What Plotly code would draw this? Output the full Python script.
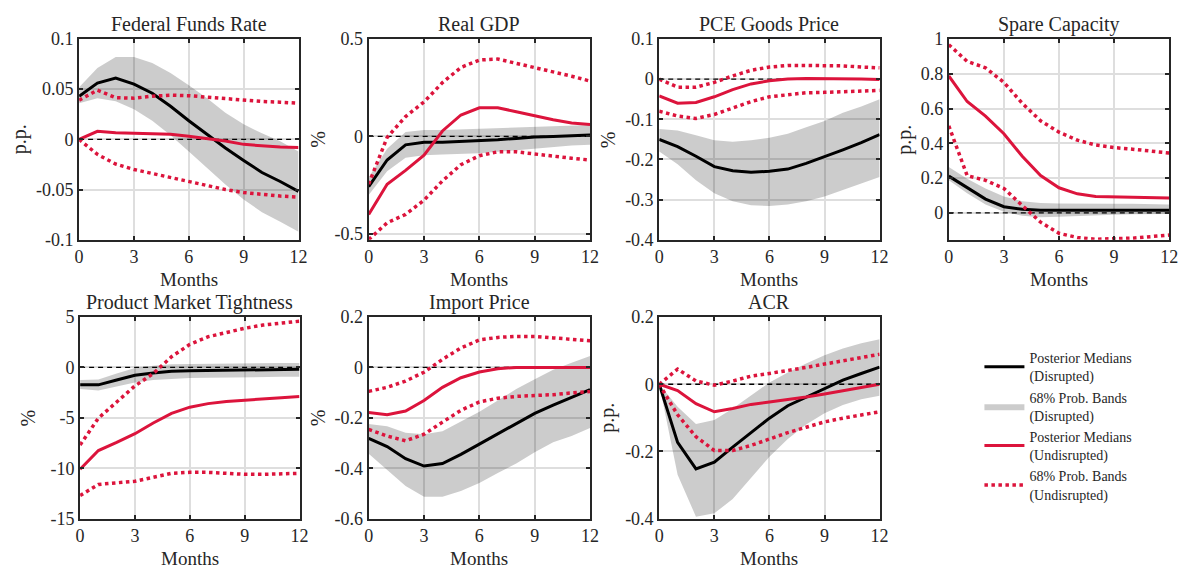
import plotly.graph_objects as go

months = list(range(13))

titles = ["Federal Funds Rate", "Real GDP", "PCE Goods Price", "Spare Capacity",
          "Product Market Tightness", "Import Price", "ACR"]
units = ["p.p.", "%", "%", "p.p.", "%", "%", "p.p."]

# Disrupted (black median, grey band)
dis_med = [
    [0.043, 0.056, 0.061, 0.055, 0.046, 0.033, 0.0185, 0.005, -0.0086, -0.021, -0.033, -0.042, -0.052],
    [-0.258, -0.121, -0.043, -0.030, -0.030, -0.026, -0.023, -0.017, -0.010, -0.003, 0.0, 0.005, 0.007],
    [-0.150, -0.168, -0.192, -0.218, -0.228, -0.232, -0.2296, -0.224, -0.210, -0.194, -0.176, -0.158, -0.138],
    [0.211, 0.144, 0.079, 0.035, 0.020, 0.015, 0.015, 0.017, 0.018, 0.018, 0.017, 0.017, 0.015],
    [-1.73, -1.73, -1.25, -0.77, -0.545, -0.385, -0.32, -0.29, -0.256, -0.224, -0.224, -0.19, -0.19],
    [-0.281, -0.314, -0.362, -0.391, -0.381, -0.345, -0.304, -0.263, -0.221, -0.182, -0.150, -0.118, -0.088],
    [0.0, -0.173, -0.252, -0.232, -0.187, -0.144, -0.101, -0.064, -0.038, -0.0125, 0.0125, 0.032, 0.051],
]
dis_hi = [
    [0.052, 0.071, 0.082, 0.082, 0.076, 0.066, 0.054, 0.041, 0.0265, 0.015, 0.006, -0.002, -0.012],
    [-0.21, -0.063, 0.023, 0.033, 0.033, 0.036, 0.040, 0.043, 0.046, 0.050, 0.053, 0.056, 0.058],
    [-0.124, -0.128, -0.140, -0.152, -0.156, -0.152, -0.146, -0.136, -0.120, -0.104, -0.084, -0.068, -0.050],
    [0.264, 0.196, 0.140, 0.094, 0.067, 0.057, 0.054, 0.052, 0.052, 0.052, 0.052, 0.050, 0.048],
    [-1.25, -1.19, -0.61, -0.064, 0.16, 0.32, 0.35, 0.38, 0.42, 0.42, 0.45, 0.45, 0.45],
    [-0.224, -0.233, -0.259, -0.265, -0.253, -0.214, -0.176, -0.131, -0.086, -0.047, -0.009, 0.019, 0.045],
    [0.0, -0.067, -0.118, -0.106, -0.072, -0.034, 0.005, 0.035, 0.062, 0.086, 0.106, 0.122, 0.134],
]
dis_lo = [
    [0.036, 0.041, 0.038, 0.030, 0.0185, 0.004, -0.012, -0.028, -0.045, -0.060, -0.0725, -0.082, -0.092],
    [-0.30, -0.178, -0.109, -0.096, -0.093, -0.091, -0.086, -0.079, -0.071, -0.063, -0.055, -0.046, -0.043],
    [-0.180, -0.212, -0.252, -0.284, -0.304, -0.314, -0.316, -0.312, -0.304, -0.292, -0.276, -0.260, -0.244],
    [0.187, 0.113, 0.048, 0.006, -0.017, -0.026, -0.022, -0.017, -0.013, -0.011, -0.009, -0.009, -0.007],
    [-2.15, -2.3, -1.9, -1.5, -1.25, -1.12, -1.06, -1.03, -0.99, -0.96, -0.96, -0.93, -0.93],
    [-0.342, -0.406, -0.470, -0.513, -0.513, -0.490, -0.458, -0.419, -0.381, -0.336, -0.297, -0.272, -0.240],
    [0.0, -0.269, -0.394, -0.384, -0.341, -0.278, -0.216, -0.163, -0.120, -0.086, -0.062, -0.045, -0.034],
]

# Undisrupted (red median, red dotted bands)
und_med = [
    [0.0, 0.008, 0.0067, 0.006, 0.006, 0.005, 0.003, 0.001, -0.0016, -0.005, -0.0064, -0.0077, -0.008],
    [-0.40, -0.245, -0.174, -0.096, 0.028, 0.110, 0.147, 0.147, 0.127, 0.106, 0.086, 0.069, 0.061],
    [-0.042, -0.060, -0.058, -0.044, -0.026, -0.012, -0.004, 0.0, 0.0016, 0.0016, 0.001, 0.0, -0.001],
    [0.787, 0.640, 0.556, 0.455, 0.325, 0.214, 0.144, 0.109, 0.094, 0.091, 0.091, 0.089, 0.085],
    [-10.1, -8.24, -7.44, -6.57, -5.51, -4.55, -3.94, -3.59, -3.37, -3.27, -3.17, -3.01, -2.88],
    [-0.179, -0.188, -0.173, -0.131, -0.079, -0.041, -0.018, -0.005, 0.0, 0.0, 0.0, 0.0, 0.0],
    [0.0, -0.019, -0.058, -0.082, -0.072, -0.060, -0.053, -0.046, -0.038, -0.029, -0.019, -0.0096, 0.0],
]
und_hi = [
    [0.039, 0.049, 0.0415, 0.041, 0.043, 0.044, 0.0435, 0.042, 0.040, 0.039, 0.0377, 0.037, 0.036],
    [-0.245, -0.005, 0.102, 0.177, 0.276, 0.354, 0.392, 0.397, 0.375, 0.354, 0.331, 0.309, 0.284],
    [0.0, -0.020, -0.020, -0.008, 0.008, 0.022, 0.030, 0.034, 0.034, 0.034, 0.033, 0.030, 0.028],
    [0.967, 0.871, 0.834, 0.750, 0.630, 0.529, 0.464, 0.418, 0.390, 0.375, 0.366, 0.357, 0.344],
    [-7.69, -5.03, -3.43, -1.83, -0.61, 1.06, 2.28, 3.04, 3.46, 3.88, 4.2, 4.42, 4.58],
    [-0.095, -0.079, -0.054, -0.019, 0.032, 0.077, 0.109, 0.119, 0.123, 0.123, 0.117, 0.113, 0.106],
    [0.0, 0.045, 0.0096, -0.003, 0.0096, 0.024, 0.032, 0.040, 0.050, 0.060, 0.070, 0.080, 0.089],
]
und_lo = [
    [0.0, -0.015, -0.0246, -0.030, -0.034, -0.038, -0.042, -0.046, -0.050, -0.053, -0.055, -0.0565, -0.0575],
    [-0.529, -0.443, -0.400, -0.327, -0.228, -0.145, -0.099, -0.079, -0.079, -0.091, -0.104, -0.112, -0.121],
    [-0.080, -0.092, -0.098, -0.088, -0.072, -0.056, -0.044, -0.038, -0.034, -0.033, -0.032, -0.030, -0.028],
    [0.500, 0.214, 0.187, 0.140, 0.042, -0.054, -0.118, -0.142, -0.152, -0.150, -0.146, -0.137, -0.128],
    [-12.7, -11.6, -11.44, -11.28, -10.9, -10.5, -10.4, -10.4, -10.5, -10.6, -10.6, -10.55, -10.5],
    [-0.246, -0.272, -0.291, -0.265, -0.217, -0.170, -0.137, -0.122, -0.115, -0.112, -0.108, -0.101, -0.096],
    [0.0, -0.091, -0.156, -0.197, -0.197, -0.182, -0.163, -0.144, -0.128, -0.112, -0.101, -0.091, -0.082],
]

y_ranges = [[-0.1, 0.1], [-0.53, 0.5], [-0.4, 0.1], [-0.155, 1.0],
            [-15, 5], [-0.6, 0.2], [-0.4, 0.2]]
y_tickvals = [[-0.1, -0.05, 0, 0.05, 0.1], [-0.5, 0, 0.5],
              [-0.4, -0.3, -0.2, -0.1, 0, 0.1], [0, 0.2, 0.4, 0.6, 0.8, 1.0],
              [-15, -10, -5, 0, 5], [-0.6, -0.4, -0.2, 0, 0.2], [-0.4, -0.2, 0, 0.2]]
y_ticktext = [["-0.1", "-0.05", "0", "0.05", "0.1"], ["-0.5", "0", "0.5"],
              ["-0.4", "-0.3", "-0.2", "-0.1", "0", "0.1"], ["0", "0.2", "0.4", "0.6", "0.8", "1"],
              ["-15", "-10", "-5", "0", "5"], ["-0.6", "-0.4", "-0.2", "0", "0.2"],
              ["-0.4", "-0.2", "0", "0.2"]]
x_tickvals = [0, 3, 6, 9, 12]

legend_names = ["Posterior Medians<br>(Disrupted)", "68% Prob. Bands<br>(Disrupted)",
                "Posterior Medians<br>(Undisrupted)", "68% Prob. Bands<br>(Undisrupted)"]

# layout geometry (pixels)
W, H = 1193, 577
x_px = [(75, 297), (368, 592), (662, 885), (955, 1178),
        (76, 298), (368, 592), (662, 885)]
y_px = [(30, 238)] * 4 + [(318, 527)] * 3
ytitle_x = [15, 317, 611, 910, 23, 317, 610]

RED = "rgb(220,20,60)"
DARK = "#262626"
FONT = "'Liberation Serif', 'Times New Roman', Times, serif"
GRID = "rgb(222,222,222)"

fig = go.Figure()
annotations = []
for i in range(7):
    ax = "" if i == 0 else str(i + 1)
    xa, ya = "x" + ax, "y" + ax
    first = (i == 0)
    # band
    fig.add_trace(go.Scatter(x=months, y=dis_lo[i], xaxis=xa, yaxis=ya, mode="lines",
                             line=dict(width=0, color="rgba(0,0,0,0)"), showlegend=False,
                             hoverinfo="skip"))
    fig.add_trace(go.Scatter(x=months, y=dis_hi[i], xaxis=xa, yaxis=ya, mode="lines",
                             line=dict(width=0, color="rgba(0,0,0,0)"), fill="tonexty",
                             fillcolor="rgba(0,0,0,0.2)", name=legend_names[1],
                             showlegend=first, legendrank=2))
    # zero line
    fig.add_trace(go.Scatter(x=[0, 12], y=[0, 0], xaxis=xa, yaxis=ya, mode="lines",
                             line=dict(color="black", width=1.3, dash="5px,4px"),
                             showlegend=False, hoverinfo="skip"))
    # black median
    fig.add_trace(go.Scatter(x=months, y=dis_med[i], xaxis=xa, yaxis=ya, mode="lines",
                             line=dict(color="black", width=3), name=legend_names[0],
                             showlegend=first, legendrank=1))
    # red dotted bands
    fig.add_trace(go.Scatter(x=months, y=und_hi[i], xaxis=xa, yaxis=ya, mode="lines",
                             line=dict(color=RED, width=3.5, dash="dot"), name=legend_names[3],
                             showlegend=first, legendrank=4))
    fig.add_trace(go.Scatter(x=months, y=und_lo[i], xaxis=xa, yaxis=ya, mode="lines",
                             line=dict(color=RED, width=3.5, dash="dot"), showlegend=False))
    # red median
    fig.add_trace(go.Scatter(x=months, y=und_med[i], xaxis=xa, yaxis=ya, mode="lines",
                             line=dict(color=RED, width=3), name=legend_names[2],
                             showlegend=first, legendrank=3))

    x0, x1 = x_px[i]
    yt, yb = y_px[i]
    common = dict(showline=True, linecolor=DARK, linewidth=2, mirror="ticks",
                  ticks="inside", ticklen=4, tickwidth=1.5, tickcolor=DARK,
                  showgrid=True, gridcolor=GRID, gridwidth=2, zeroline=False,
                  tickfont=dict(family=FONT, size=18, color=DARK))
    fig.layout["xaxis" + ax] = dict(domain=[x0 / W, x1 / W], anchor=ya, range=[0, 12],
                                    tickvals=x_tickvals, **common)
    fig.layout["yaxis" + ax] = dict(domain=[1 - yb / H, 1 - yt / H], anchor=xa,
                                    range=y_ranges[i], tickvals=y_tickvals[i],
                                    ticktext=y_ticktext[i], **common)
    # title
    annotations.append(dict(text=titles[i], x=(x0 + x1) / 2 / W, y=1 - (yt - 15) / H,
                            xref="paper", yref="paper", showarrow=False,
                            xanchor="center", yanchor="middle",
                            font=dict(family=FONT, size=20, color=DARK)))
    # x label
    annotations.append(dict(text="Months", x=(x0 + x1) / 2 / W, y=1 - (yb + 41) / H,
                            xref="paper", yref="paper", showarrow=False,
                            xanchor="center", yanchor="middle",
                            font=dict(family=FONT, size=19, color=DARK)))
    # y label
    annotations.append(dict(text=units[i], x=ytitle_x[i] / W, y=1 - (yt + yb) / 2 / H,
                            xref="paper", yref="paper", showarrow=False, textangle=-90,
                            xanchor="center", yanchor="middle",
                            font=dict(family=FONT, size=20, color=DARK)))

fig.update_layout(
    width=W, height=H, margin=dict(l=0, r=0, t=0, b=0),
    paper_bgcolor="white", plot_bgcolor="white",
    annotations=annotations,
    showlegend=True,
    font=dict(family=FONT, color=DARK),
    legend=dict(x=986 / W, y=1 - 344 / H, xanchor="left", yanchor="top",
                traceorder="normal",
                font=dict(family=FONT, size=14, color=DARK),
                bgcolor="rgba(0,0,0,0)", tracegroupgap=0, itemwidth=40),
)

fig.write_html("out.html")
